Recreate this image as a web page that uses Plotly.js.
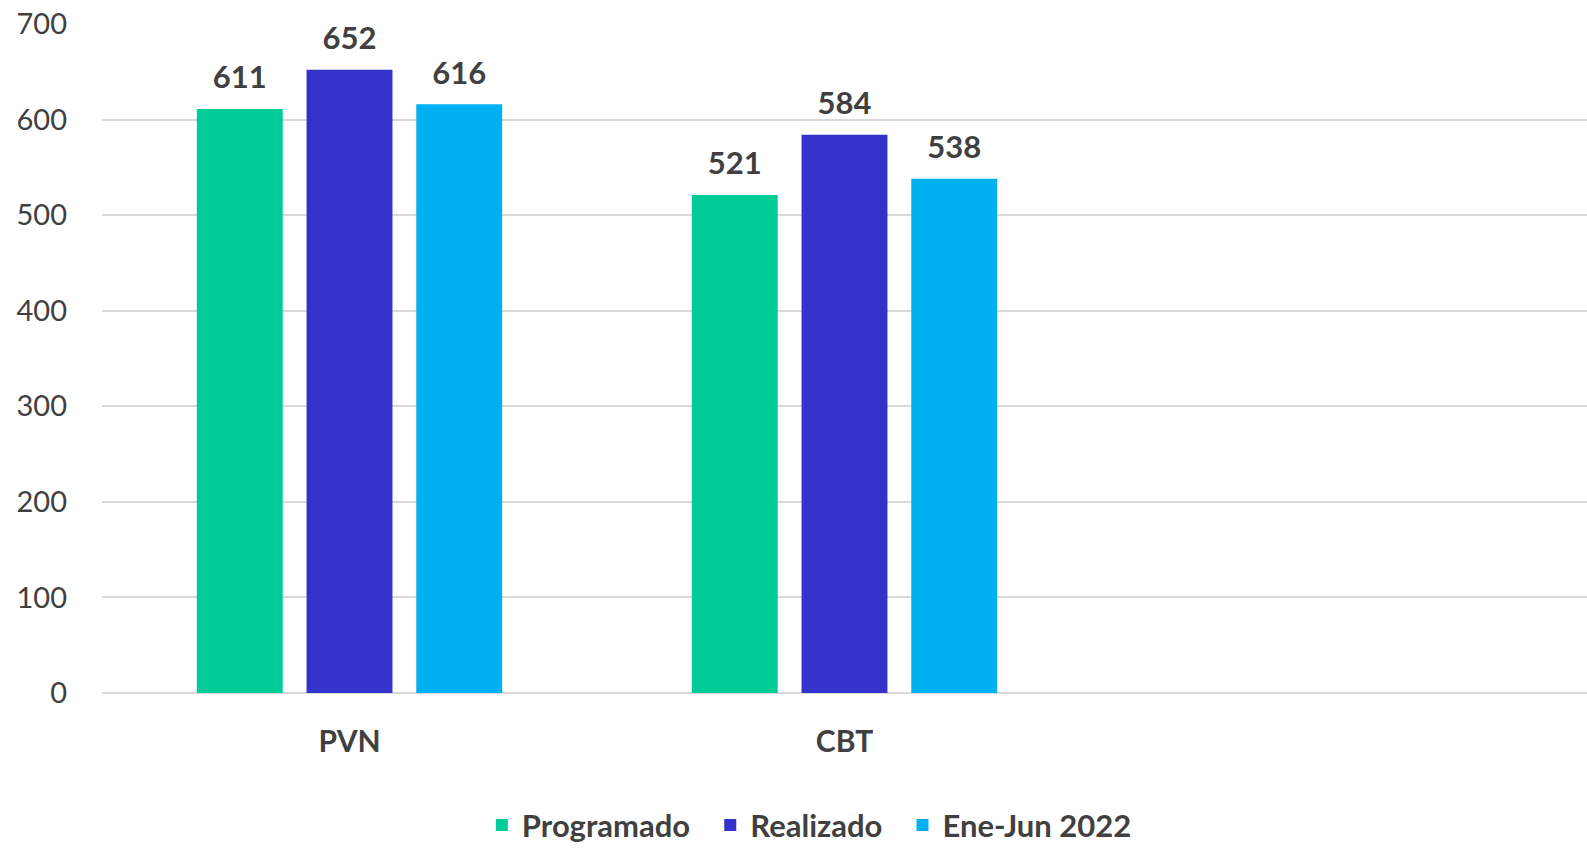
<!DOCTYPE html>
<html>
<head>
<meta charset="utf-8">
<script src="https://cdn.plot.ly/plotly-3.0.1.min.js"></script>
<style>
  html, body { margin: 0; padding: 0; background: #fff; }
  #chart { width: 1587px; height: 849px; }
</style>
</head>
<body>
<div id="chart"></div>
<script>
const categories = ['PVN', 'CBT'];
const seriesNames = ['Programado', 'Realizado', 'Ene-Jun 2022'];
const programado = [611, 521];
const realizado = [652, 584];
const eneJun2022 = [616, 538];
const colors = ['#00CC99', '#3333CC', '#00B0F0'];

const font = 'Lato, "Open Sans", sans-serif';
const textColor = '#404040';
const allSeries = [programado, realizado, eneJun2022];

// bars (trailing nbsp widens the gap between legend entries)
const bars = allSeries.map((vals, i) => ({
  type: 'bar',
  name: seriesNames[i] + (i < 2 ? '\u00a0\u00a0' : ''),
  x: categories,
  y: vals,
  marker: { color: colors[i] },
  hoverinfo: 'skip'
}));

// value labels, offset the same way as the bars (scattermode group)
const labels = allSeries.map((vals, i) => ({
  type: 'scatter',
  mode: 'markers+text',
  x: categories,
  y: vals,
  text: vals.map(String),
  textposition: 'top center',
  cliponaxis: false,
  showlegend: false,
  marker: { size: 19, color: 'rgba(0,0,0,0)' },
  textfont: { family: font, size: 31, color: textColor, weight: 'bold' },
  hoverinfo: 'skip'
}));

const layout = {
  width: 1587,
  height: 849,
  margin: { l: 102, r: 0, t: 24, b: 156 },
  paper_bgcolor: '#fff',
  plot_bgcolor: '#fff',
  barmode: 'group',
  bargap: 0.335,
  bargroupgap: 0.217,
  scattermode: 'group',
  scattergap: 0.335,
  font: { family: font, color: textColor },
  xaxis: {
    type: 'category',
    range: [-0.5, 2.5],
    showgrid: false,
    showline: false,
    zeroline: false,
    ticks: '',
    ticklabelstandoff: 28,
    tickfont: { family: font, size: 30, color: textColor, weight: 'bold' }
  },
  yaxis: {
    range: [0, 700],
    dtick: 100,
    showgrid: true,
    gridcolor: '#D9D9D9',
    gridwidth: 2,
    zeroline: true,
    zerolinecolor: '#D9D9D9',
    zerolinewidth: 2,
    showline: false,
    ticks: '',
    ticklabelstandoff: 34,
    tickfont: { family: font, size: 29, color: textColor }
  },
  showlegend: true,
  legend: {
    orientation: 'h',
    xref: 'container',
    yref: 'container',
    x: 0.51,
    xanchor: 'center',
    y: 0.028,
    yanchor: 'middle',
    font: { family: font, size: 31, color: textColor, weight: 'bold' },
    itemwidth: 30,
    tracegroupgap: 0
  }
};

Plotly.newPlot('chart', bars.concat(labels), layout, { displayModeBar: false, staticPlot: true });
</script>
</body>
</html>
